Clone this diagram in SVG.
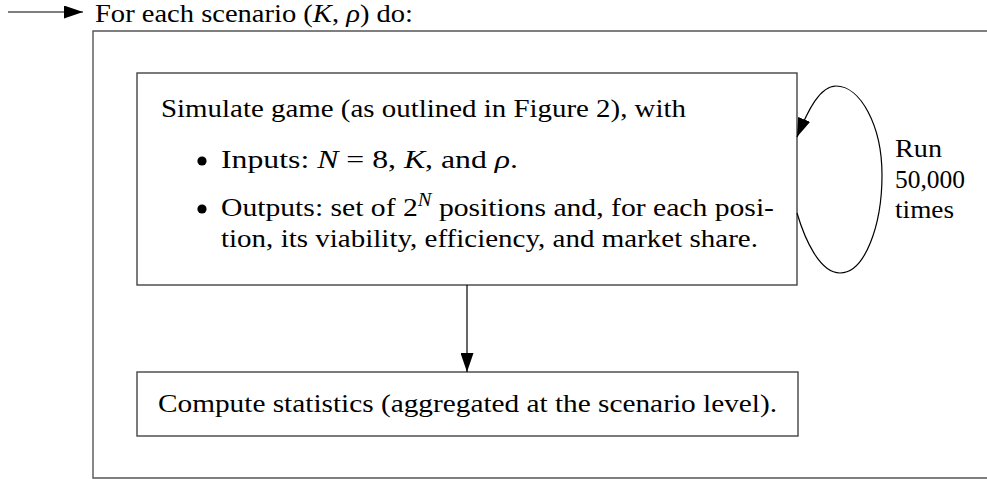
<svg xmlns="http://www.w3.org/2000/svg" width="987" height="479" viewBox="0 0 987 479">
<style>
text{font-family:"Liberation Serif","DejaVu Serif",serif;font-size:26px;fill:#000}
.i{font-style:italic}
.box{fill:#fff;stroke:#444;stroke-width:1.4}
.edge{fill:none;stroke:#000;stroke-width:1.2}
</style>
<defs>
<marker id="ah" viewBox="0 0 19 13" refX="19" refY="6.5" markerWidth="19" markerHeight="13" markerUnits="userSpaceOnUse" orient="auto">
<path d="M0,0 L19,6.5 L0,13 Z" fill="#000"/>
</marker>
</defs>
<rect width="987" height="479" fill="#fff"/>
<g id="scenario">
<path d="M987,31 H93 V478 H987" fill="none" stroke="#555" stroke-width="1.4"/>
<text x="95" y="21.5" font-size="24" textLength="318" lengthAdjust="spacingAndGlyphs">For each scenario (<tspan class="i">K</tspan>, <tspan class="i">ρ</tspan>) do:</text>
</g>
<g id="simulate">
<rect class="box" x="137" y="73" width="660" height="212"/>
<text x="161" y="117" textLength="525" lengthAdjust="spacingAndGlyphs">Simulate game (as outlined in Figure 2), with</text>
<circle cx="202" cy="161" r="4.6" fill="#000"/>
<text x="221" y="168" textLength="297" lengthAdjust="spacingAndGlyphs">Inputs:  <tspan class="i">N</tspan> = 8, <tspan class="i">K</tspan>, and <tspan class="i">ρ</tspan>.</text>
<circle cx="202" cy="209" r="4.6" fill="#000"/>
<text x="221" y="216" textLength="553" lengthAdjust="spacingAndGlyphs">Outputs: set of 2<tspan dy="-10" font-size="18" class="i">N</tspan><tspan dy="10"> positions and, for each posi-</tspan></text>
<text x="221" y="247" textLength="537" lengthAdjust="spacingAndGlyphs">tion, its viability, efficiency, and market share.</text>
</g>
<g id="compute">
<rect class="box" x="137" y="372" width="661" height="64"/>
<text x="158" y="412" textLength="619" lengthAdjust="spacingAndGlyphs">Compute statistics (aggregated at the scenario level).</text>
</g>
<g id="loop-label">
<text x="895" y="157" textLength="47" lengthAdjust="spacingAndGlyphs">Run</text>
<text x="895" y="188" textLength="70" lengthAdjust="spacingAndGlyphs">50,000</text>
<text x="895" y="218" textLength="59" lengthAdjust="spacingAndGlyphs">times</text>
</g>
<g id="connectors">
<path class="edge" d="M8,12 H83" marker-end="url(#ah)"/>
<path class="edge" d="M467,285 V372" marker-end="url(#ah)"/>
<path class="edge" d="M797,213 C805,240 820,273 840,273 C865,273 882,225 882,175 C882,125 860,86 836,86 C820,86 808,110 797,137" marker-end="url(#ah)"/>
</g>
</svg>
